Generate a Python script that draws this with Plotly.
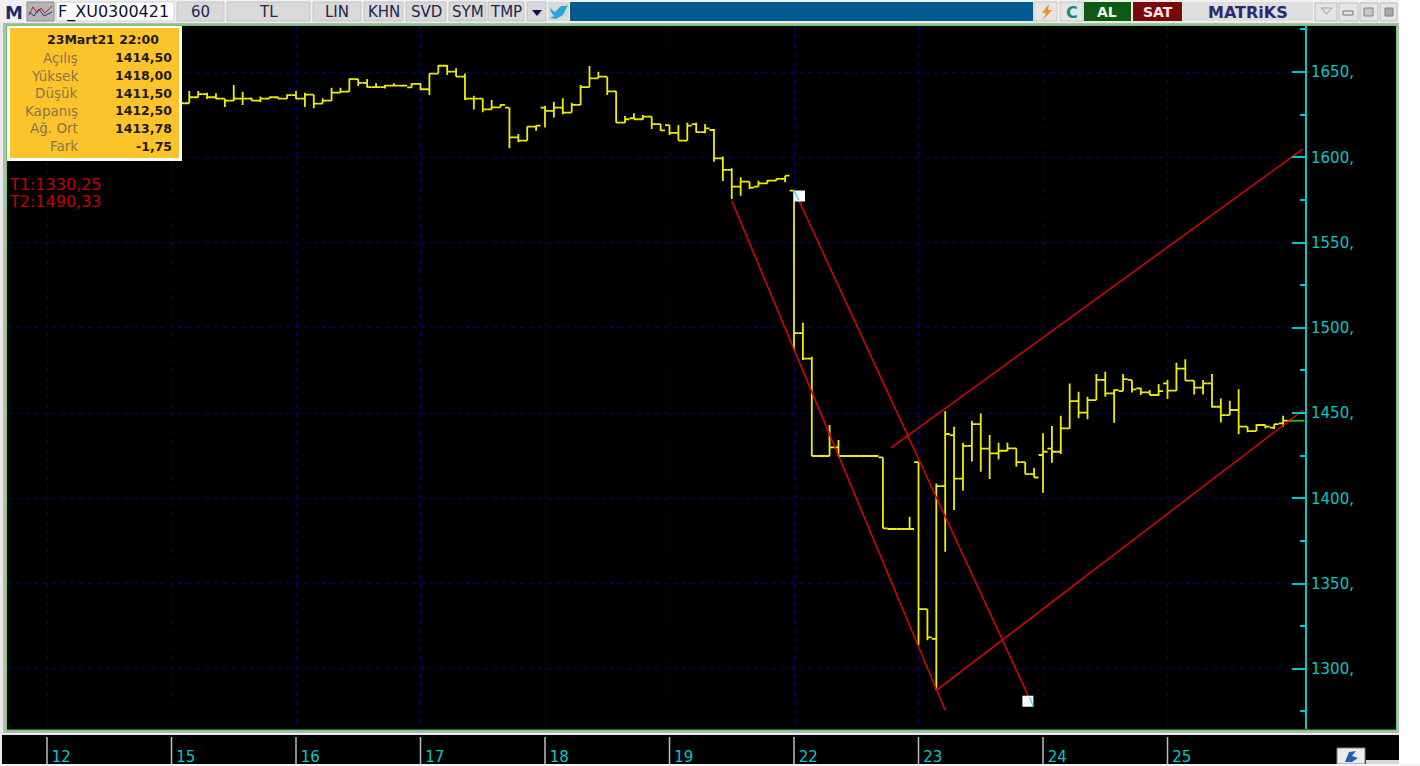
import plotly.graph_objects as go

# ---------- data ----------
first_bar = 15
opens = [1631.7,1631.7,1635.2,1637.1,1635.2,1634.4,1633.2,1634.4,1634.4,1633.2,
         1634.4,1635.2,1634.4,1636.5,1634.4,1636.7,1631.5,1633.2,1637.9,1638.5,
         1645.9,1643.6,1641.2,1641.2,1642,1642,1641,1643,1639.9,1649.1,
         1653.7,1650.2,1647.3,1634.4,1634.4,1628.1,1629.3,1629.1,1611.7,1609.8,
         1618,1629.1,1627.2,1629.1,1626.2,1630.7,1641.2,1646.3,1647.3,1638.7,
         1620.3,1622.9,1622.3,1623.8,1619.5,1618.9,1614.3,1609.8,1619.5,1614.8,
         1616,1599.4,1592.6,1582.8,1585.7,1582.8,1584.7,1586.3,1587.3,1580.4,
         1496.9,1481.9,1424.8,1424.8,1429.9,1424.8,1424.8,1424.8,1424.8,1424,
         1382,1382,1382,1421.2,1335,1317.6,1407.2,1437.1,1411.5,1430.8,
         1443.5,1429.1,1426.3,1427.9,1429.3,1421.2,1414.2,1425.4,1429.1,1427.3,
         1441,1457,1450.2,1457.6,1469.4,1461.5,1462.9,1469.4,1464.5,1462.1,
         1460.6,1467.4,1463.1,1476,1469,1464.9,1467.4,1453.7,1448.8,1451.8,
         1442,1439.4,1443,1441.4,1443.9]
highs = [1631.7,1638.9,1638.9,1637.9,1637.5,1634.4,1642.4,1638.5,1635,1635.6,
         1635.2,1635.2,1636.9,1638.9,1637.9,1636.7,1634.6,1640.8,1640.8,1646.3,
         1645.9,1645.9,1643.4,1642.4,1643.4,1642.4,1643.4,1643.4,1649.2,1654.1,
         1654.1,1652.2,1649.2,1636.1,1634.4,1633.6,1631.1,1629.1,1613.7,1618,
         1618.6,1630.3,1632.6,1634.6,1632,1642.4,1653.5,1650.2,1647.3,1638.7,
         1624.2,1625.8,1624.8,1623.8,1619.5,1618.9,1618.9,1620.3,1620.3,1619.5,
         1616.6,1600.4,1593.5,1588.3,1585.7,1586.3,1586.7,1587.3,1589.2,1580.4,
         1503,1483,1424.8,1443,1434.2,1424.8,1424.8,1424.8,1424.8,1424,
         1382,1382,1389.2,1421.2,1335,1408.7,1451.1,1442,1432.6,1445.5,
         1449.8,1437.1,1432.6,1432.6,1429.3,1421.2,1417.7,1438.1,1442.4,1448.4,
         1467.4,1462.5,1459.6,1472.9,1474.2,1463.9,1472.9,1469.4,1464.9,1463.5,
         1467,1469.4,1479.5,1481.5,1469,1469.4,1472.9,1458.6,1457.2,1463.9,
         1442,1443.5,1443,1443.5,1448.4]
lows = [1631.7,1631.7,1635.2,1634.2,1634.2,1629.5,1633.2,1630.7,1633.2,1632.4,
        1634.4,1634.2,1634.4,1634.2,1629.5,1628.7,1631.5,1633.2,1637.9,1638.5,
        1641.8,1641,1641,1640.4,1642,1641.4,1641,1639.5,1636.5,1649.1,
        1648.3,1647.3,1633.6,1628.1,1626.4,1628.1,1629.3,1605.3,1608.8,1609.8,
        1615.6,1617.4,1623.4,1625.2,1626.2,1630.7,1641.2,1646.3,1636.5,1620.3,
        1620.3,1622.3,1621.9,1616.6,1615.6,1613.1,1609.8,1609.8,1614.6,1614.1,
        1597.4,1586.1,1575.5,1577.5,1581.2,1582.8,1584.7,1586.3,1585.3,1487,
        1481.1,1424.8,1424.8,1424.8,1424.8,1424.8,1424.8,1424.8,1424.8,1382.4,
        1382,1382,1382,1313.9,1316.8,1287.5,1368.6,1393.1,1404.4,1421.6,
        1415.6,1411.3,1422.8,1427.9,1418.5,1414.2,1412.2,1403.3,1420.9,1426,
        1441,1446.9,1446.3,1457.6,1459.6,1444.3,1462.9,1462.1,1460.6,1460.6,
        1460.2,1458.2,1463.1,1469,1460.9,1460.9,1453.3,1444.5,1448.8,1437.5,
        1438.7,1439.4,1441,1440.6,1442]
closes = [1631.7,1635.2,1637.1,1635.2,1634.4,1633.2,1634.4,1634.4,1633.2,1634.4,
          1635.2,1634.4,1636.5,1634.4,1636.7,1631.5,1633.2,1637.9,1638.5,1645.9,
          1643.6,1641.2,1641.2,1642,1642,1642,1643,1639.9,1649.1,1653.7,
          1650.2,1647.3,1634.4,1634.4,1628.1,1629.3,1630.7,1611.7,1609.8,1618,
          1618.6,1627.2,1629.1,1626.2,1630.7,1641.2,1646.3,1647.3,1638.7,1620.3,
          1622.3,1622.3,1623.8,1619.5,1615.8,1614.3,1609.8,1618.6,1614.8,1617,
          1599.4,1592.6,1582.8,1585.7,1582.2,1584.7,1586.3,1587.3,1589.2,1496.9,
          1481.9,1424.8,1424.8,1429.9,1424.8,1424.8,1424.8,1424.8,1424.8,1382.4,
          1382,1382,1382,1335,1318.4,1407.2,1437.7,1411.5,1430.8,1443.5,
          1429.1,1426.3,1427.9,1429.3,1421.2,1414.2,1412.2,1427.3,1427.3,1441,
          1457,1450.2,1457.6,1469.4,1461.5,1463.5,1469.9,1463.9,1462.1,1460.6,
          1462.9,1463.1,1476,1469,1464.9,1467.4,1453.7,1448.8,1451.8,1442,
          1439.4,1443,1442,1443.5,1445.5]
bar_index = list(range(first_bar, first_bar + len(opens)))

day_index = [0, 14, 28, 42, 56, 70, 84, 98, 112, 126]
day_labels = ["12", "15", "16", "17", "18", "19", "22", "23", "24", "25"]
price_major = [1300, 1350, 1400, 1450, 1500, 1550, 1600, 1650]
price_major_text = ["1300,", "1350,", "1400,", "1450,", "1500,", "1550,", "1600,", "1650,"]
price_minor = [1275, 1325, 1375, 1425, 1475, 1525, 1575, 1625, 1675]

trend_a_x, trend_a_y = [77, 100.98], [1574.5, 1275.8]
trend_b_x, trend_b_y = [84, 110.87], [1580.8, 1278.2]
trend_c_x, trend_c_y = [94.9, 141.2], [1429.6, 1604.8]
trend_d_x, trend_d_y = [100.04, 141.27], [1287.5, 1451.8]
handle_x, handle_y = [84.62, 110.3], [1577.3, 1281]
cyan1_x, cyan1_y = [84.05, 84.5], [1580, 1575]
cyan2_x, cyan2_y = [110.48, 110.87], [1283.4, 1278.2]
last_x, last_y = [139.5, 139.9], [1445.5, 1445.5]
green_x, green_y = [139.9, 141.4], [1445.5, 1445.5]

info_labels = ["Açılış", "Yüksek", "Düşük", "Kapanış", "Ağ. Ort", "Fark"]
info_values = ["1414,50", "1418,00", "1411,50", "1412,50", "1413,78", "-1,75"]
info_title = "23Mart21 22:00"
target_labels = ["T1:1330,25", "T2:1490,33"]
buttons = [("60", 177, 224), ("TL", 227, 310), ("LIN", 313, 361), ("KHN", 364, 403),
           ("SVD", 406, 446), ("SYM", 449, 486), ("TMP", 488, 524)]

# ---------- layout helpers ----------
W, H = 1420, 766
L, R, T, B = 7, 1305, 26, 729
FONT = "DejaVu Sans"
CYAN = "#00C8C8"
YEL = "#EEEE00"
RED = "#E00000"
GRID = "#00007E"


def fx(p):
    return (p - L) / (R - L)


def fy(p):
    return (B - p) / (B - T)


shapes, ann = [], []


def rect(x0, y0, x1, y1, fill, line=None, layer="above", lw=1):
    shapes.append(dict(type="rect", xref="paper", yref="paper", x0=fx(x0), x1=fx(x1), y0=fy(y0), y1=fy(y1),
                       fillcolor=fill, line=dict(color=line or fill, width=lw if line else 0), layer=layer))


def text(x, y, s, color, size, anchor="center", bold=False, family=FONT):
    ann.append(dict(xref="paper", yref="paper", x=fx(x), y=fy(y), text=f"<b>{s}</b>" if bold else s,
                    showarrow=False, xanchor=anchor, yanchor="middle", borderpad=0,
                    font=dict(family=family, size=size, color=color)))


def path(points, fill=None, line=None, lw=1, close=True):
    d = "M " + " L ".join(f"{fx(a):.5f} {fy(b):.5f}" for a, b in points) + (" Z" if close else "")
    shapes.append(dict(type="path", xref="paper", yref="paper", path=d, fillcolor=fill or "rgba(0,0,0,0)",
                       line=dict(color=line or "rgba(0,0,0,0)", width=lw), layer="above"))


# frame and dark regions
rect(0, 0, 1399, 764, "#E9E9E9", layer="below")
rect(3, 23, 1399, 733, "#B8B8B8", layer="below")
rect(6, 24.5, 1397, 731, "#66CC66", layer="below")
rect(7, 26, 1396, 729.5, "#000000", layer="below")
rect(2, 735, 1399, 764, "#000000", layer="below")

# toolbar
rect(0, 0, 1399, 22, "#F0F0F0")
text(13.5, 12, "M", "#1E2A6E", 18, bold=True)
rect(27, 2, 54, 21, "#B4B4B4", "#8C8C8C")
path([(29, 15), (33, 7), (37, 13), (41, 8), (45, 13), (52, 6)], line="#C02020", lw=1, close=False)
path([(29, 12), (34, 16), (39, 9), (44, 16), (52, 12)], line="#2030A0", lw=1, close=False)
rect(56, 2, 174, 21, "#FFFFFF", "#D0D0D0")
text(57, 12, "F_XU0300421", "#101030", 16, anchor="left")
for label, a, b in buttons:
    rect(a, 2, b, 21, "#D9D9D9", "#C4C4C4")
    text((a + b) / 2, 12, label, "#24244C", 15)
rect(527, 2, 546, 21, "#D9D9D9", "#C4C4C4")
path([(532, 10), (542, 10), (537, 16)], fill="#101050")
rect(548, 2, 569, 21, "#D9D9D9")
path([(550, 8), (555, 12), (561, 6), (566, 6), (568, 5), (566, 9), (563, 15), (556, 19), (550, 18),
      (554, 16), (551, 12)], fill="#2CA5DC")
rect(570, 2, 1033, 21, "#005C8E")
rect(1034, 2, 1057, 21, "#E4E4E4", "#C8C8C8")
path([(1049, 4), (1042, 13), (1046, 13), (1043, 20), (1052, 10), (1048, 10)], fill="#E8901A")
rect(1060, 2, 1083, 21, "#E4E4E4", "#C8C8C8")
text(1071.5, 12, "C", "#138C74", 16, bold=True)
rect(1084, 2, 1131, 21, "#0F5A12")
text(1107, 12, "AL", "#EAF4EA", 14, bold=True)
rect(1133, 2, 1182, 21, "#7A0A0A")
text(1157.5, 12, "SAT", "#F8E8E8", 14, bold=True)
rect(1183, 2, 1313, 21, "#DEDEDE")
text(1248, 12, "MATRiKS", "#2A2A6C", 16, bold=True)
for a, b in [(1315, 1337), (1339, 1358), (1360, 1378), (1380, 1397)]:
    rect(a, 3, b, 21, "#E4E4E4", "#BDBDBD")
path([(1321, 8), (1332, 8), (1326.5, 14)], line="#A0A0A0")
rect(1343, 11, 1353, 15, "#E4E4E4", "#707070")
rect(1364, 8, 1373, 16, "#C8C8C8", "#808080")
rect(1385, 8, 1393, 16, "#A8A8A8", "#808080")

# info panel
rect(7, 26, 182, 161, "#FFFFFF")
rect(10, 28, 179, 158, "#FCC42A")
text(103, 40, info_title, "#1C1C1C", 12.5, bold=True)
for i, (lab, val) in enumerate(zip(info_labels, info_values)):
    y = 58 + i * 17.6
    text(79, y, lab, "#86764E", 13.5, anchor="right")
    text(173, y, val, "#1C1C1C", 12.5, anchor="right", bold=True)
for i, lab in enumerate(target_labels):
    text(8, 184 + i * 17.5, lab, "#C00000", 16, anchor="left")

# bottom day ticks
for d in day_index:
    shapes.append(dict(type="line", xref="x", yref="paper", x0=d, x1=d, y0=fy(737), y1=fy(764),
                       line=dict(color="#BDBDBD", width=1.5), layer="above"))

# bottom-right corner widgets
rect(1337, 748, 1365, 764, "#ECECEC", "#808080")
path([(1345, 762), (1349, 752), (1356, 751), (1352, 756), (1358, 758), (1352, 762)], fill="#2060B0")
rect(1366, 760, 1399, 764, "#D8D8D8")
rect(1400, 0, 1420, 766, "#FFFFFF")
rect(0, 764, 1420, 766, "#F4F4F4")

fig = go.Figure()
fig.add_trace(go.Ohlc(x=bar_index, open=opens, high=highs, low=lows, close=closes, tickwidth=0.5,
                      increasing=dict(line=dict(color=YEL, width=1.8)),
                      decreasing=dict(line=dict(color=YEL, width=1.8)), showlegend=False))
for xs, ys, c, w in [(last_x, last_y, YEL, 1.8), (green_x, green_y, "#10C810", 1.8),
                     (trend_a_x, trend_a_y, RED, 1.5), (trend_b_x, trend_b_y, RED, 1.5),
                     (trend_c_x, trend_c_y, RED, 1.5), (trend_d_x, trend_d_y, RED, 1.5)]:
    fig.add_trace(go.Scatter(x=xs, y=ys, mode="lines", line=dict(color=c, width=w), showlegend=False))
fig.add_trace(go.Scatter(x=handle_x, y=handle_y, mode="markers", showlegend=False,
                         marker=dict(symbol="square", size=11, color="#FFFFFF", line=dict(width=0))))
for xs, ys in [(cyan1_x, cyan1_y), (cyan2_x, cyan2_y)]:
    fig.add_trace(go.Scatter(x=xs, y=ys, mode="lines", line=dict(color="#20E0F0", width=1.3), showlegend=False))

fig.update_layout(
    width=W, height=H, autosize=False, margin=dict(l=L, r=W - R, t=T, b=H - B, pad=0),
    paper_bgcolor="#FFFFFF", plot_bgcolor="#000000", showlegend=False,
    shapes=shapes, annotations=ann,
    xaxis=dict(range=[-4.498, 141.46], tickmode="array", tickvals=day_index,
               ticktext=["\u00a0" + s for s in day_labels], automargin=False,
               showgrid=True, gridcolor=GRID, griddash="4px,5px", gridwidth=1, zeroline=False,
               rangeslider=dict(visible=False), ticks="", showline=False,
               ticklabelposition="outside right", ticklabelstandoff=17,
               tickfont=dict(family=FONT, size=15, color=CYAN)),
    yaxis=dict(range=[1264.7, 1677], side="right", tickmode="array", tickvals=price_major,
               ticktext=price_major_text, automargin=False, showgrid=True, gridcolor=GRID,
               griddash="4px,5px", gridwidth=1, zeroline=False, showline=True, linecolor=CYAN, linewidth=2,
               ticks="inside", ticklen=13, tickwidth=1.5, tickcolor=CYAN, ticklabelstandoff=1,
               tickfont=dict(family=FONT, size=15, color=CYAN),
               minor=dict(tickmode="array", tickvals=price_minor, ticks="inside", ticklen=5, tickwidth=1.5,
                          tickcolor=CYAN, showgrid=False)),
)
fig.write_html("out.html", config={"displayModeBar": False},
               post_script="document.body.style.margin='0';")
